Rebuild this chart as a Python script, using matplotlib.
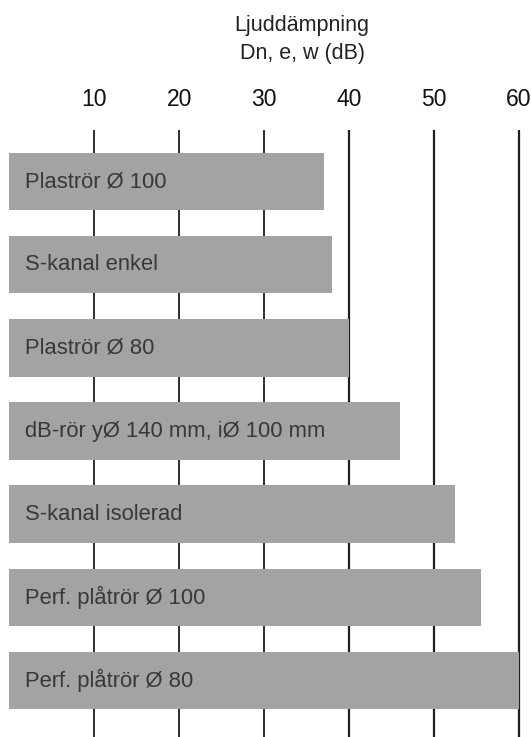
import matplotlib
matplotlib.use("Agg")
import matplotlib.pyplot as plt
import numpy as np

plt.rcParams['font.family'] = ['Liberation Sans', 'DejaVu Sans']

# data
labels = [
    "Plaströr Ø 100",
    "S-kanal enkel",
    "Plaströr Ø 80",
    "dB-rör yØ 140 mm, iØ 100 mm",
    "S-kanal isolerad",
    "Perf. plåtrör Ø 100",
    "Perf. plåtrör Ø 80",
]
values = [37, 38, 40, 46, 52.5, 55.5, 60]
ticks = [10, 20, 30, 40, 50, 60]
title_lines = ["Ljuddämpning", "Dn, e, w (dB)"]

W, H = 531, 737
fig = plt.figure(figsize=(W / 100, H / 100), dpi=100)
top_px = 130
ax = fig.add_axes([0, 0, 1, 1 - top_px / H])

pos = np.arange(len(labels))

# grid lines sit behind the bars
for t in ticks:
    lw = 1.6 if t >= 40 else 1.3
    ax.axvline(t, color="#1e1e1e", lw=lw, zorder=1)

ax.barh(pos, values, height=0.69, color="#a3a3a3", zorder=2)
for p, lab in zip(pos, labels):
    ax.text(1.85, p, lab, va="center", ha="left", fontsize=15.8,
            color="#383838", zorder=3)

ax.set_xlim(-1.07, 61.4)
ax.set_ylim(6.68, -0.62)
ax.set_yticks([])
ax.set_xticks(ticks)
ax.xaxis.tick_top()
ax.tick_params(axis="x", length=0, pad=14, labelsize=16.5, labelcolor="#111111")
for s in ax.spines.values():
    s.set_visible(False)

fig.text(302 / W, 1 - 26 / H, title_lines[0], ha="center", va="center",
         fontsize=15.5, color="#222222")
fig.text(302 / W, 1 - 53 / H, title_lines[1], ha="center", va="center",
         fontsize=15.5, color="#222222")

fig.savefig("out.png", dpi=100)
